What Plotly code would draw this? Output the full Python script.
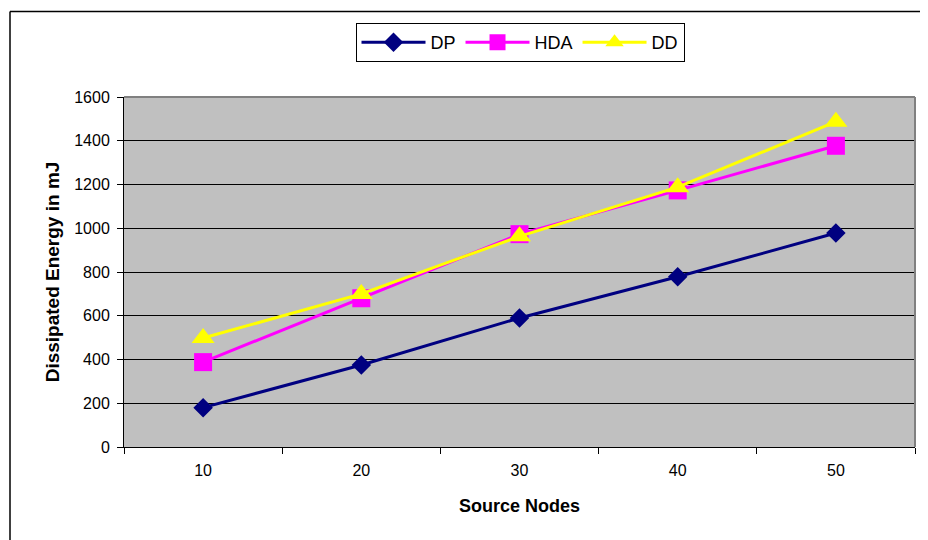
import plotly.graph_objects as go

categories = ["10", "20", "30", "40", "50"]
dp = [180, 375, 590, 778, 978]
hda = [388, 680, 973, 1173, 1377]
dd = [498, 700, 963, 1188, 1487]
y_ticks = [0, 200, 400, 600, 800, 1000, 1200, 1400, 1600]

# page is offset by the 8px body margin, so the figure is 920x532
W, H = 920, 532
OFF = 8
L, R, T, B = 124 - OFF, 13, 97 - OFF, 93
pw, ph = W - L - R, H - T - B

def px(x):
    return (x - OFF - L) / pw

def py(y):
    return (H - B - (y - OFF)) / ph

fig = go.Figure()
fig.add_trace(go.Scatter(x=categories, y=dp, name="DP", mode="lines+markers",
                         line=dict(color="#000080", width=3),
                         marker=dict(symbol="diamond", size=15, color="#000080")))
fig.add_trace(go.Scatter(x=categories, y=hda, name="HDA", mode="lines+markers",
                         line=dict(color="#FF00FF", width=3),
                         marker=dict(symbol="square", size=18, color="#FF00FF")))
fig.add_trace(go.Scatter(x=categories, y=dd, name="DD", mode="lines+markers",
                         line=dict(color="#FFFF00", width=3),
                         marker=dict(symbol="triangle-up", size=20, color="#FFFF00")))

fig.update_layout(
    width=W, height=H,
    margin=dict(l=L, r=R, t=T, b=B),
    paper_bgcolor="white",
    plot_bgcolor="#C0C0C0",
    font=dict(family="Liberation Sans, Arial", size=16, color="black"),
    showlegend=True,
    legend=dict(orientation="h", x=px(520), xanchor="center", y=py(23), yanchor="top",
                bordercolor="black", borderwidth=1, bgcolor="white",
                font=dict(size=18), itemwidth=64, tracegroupgap=0),
    xaxis=dict(type="category", range=[-0.5, 4.5], showgrid=False,
               showline=True, linecolor="black", linewidth=1,
               ticks="outside", tickson="boundaries", ticklen=6, tickcolor="black",
               ticklabelstandoff=9,
               title=dict(text="<b>Source Nodes</b>", font=dict(size=18), standoff=21),
               zeroline=False),
    yaxis=dict(range=[0, 1600], tickvals=y_ticks, showgrid=True, gridcolor="black", gridwidth=1,
               showline=True, linecolor="black", linewidth=1,
               ticks="outside", ticklen=6, tickcolor="black",
               ticklabelstandoff=4,
               title=dict(text="<b>Dissipated Energy in mJ</b>", font=dict(size=19), standoff=9),
               zeroline=False),
    shapes=[
        dict(type="line", xref="paper", yref="paper", x0=0, x1=1, y0=1, y1=1,
             line=dict(color="#808080", width=2), layer="above"),
        dict(type="line", xref="paper", yref="paper", x0=1, x1=1, y0=0, y1=1,
             line=dict(color="#808080", width=2), layer="above"),
        dict(type="line", xref="paper", yref="paper", x0=px(10), x1=px(10), y0=py(548), y1=py(11.5),
             line=dict(color="black", width=1.5)),
        dict(type="line", xref="paper", yref="paper", x0=px(10), x1=px(936), y0=py(11.5), y1=py(11.5),
             line=dict(color="black", width=1.5)),
    ],
)

fig.write_html("out.html")
